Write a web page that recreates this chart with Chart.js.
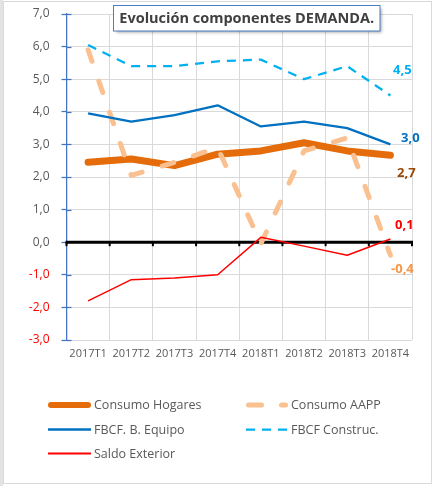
<!DOCTYPE html>
<html>
<head>
<meta charset="utf-8">
<script src="https://cdn.jsdelivr.net/npm/chart.js@4.4.0/dist/chart.umd.min.js"></script>
<style>
html,body{margin:0;padding:0;background:#fff;}
#wrap{position:relative;width:433px;height:486px;}
</style>
</head>
<body>
<div id="wrap"><canvas id="c" width="433" height="486"></canvas></div>
<script>
// ---- Data ----
const categories = ['2017T1','2017T2','2017T3','2017T4','2018T1','2018T2','2018T3','2018T4'];
const consumoHogares = [2.45, 2.55, 2.35, 2.7, 2.8, 3.05, 2.8, 2.67];
const consumoAAPP    = [5.9, 2.05, 2.45, 2.9, -0.05, 2.8, 3.2, -0.4];
const fbcfEquipo     = [3.95, 3.7, 3.9, 4.2, 3.55, 3.7, 3.5, 3.0];
const fbcfConstruc   = [6.05, 5.4, 5.4, 5.55, 5.6, 5.0, 5.4, 4.5];
const saldoExterior  = [-1.8, -1.15, -1.1, -1.0, 0.15, -0.12, -0.4, 0.1];
const seriesNames = ['Consumo Hogares','Consumo AAPP','FBCF. B. Equipo','FBCF Construc.','Saldo Exterior'];
const yMin = -3, yMax = 7, yStep = 1;
const chartTitle = 'Evolución componentes DEMANDA.';

const fmt = v => Number(v).toFixed(1).replace('.', ',');

// ---- Styles ----
const FONT = "'Open Sans', 'Liberation Sans', sans-serif";
const seriesStyle = [
  {color:'#E46C0A', width:7,    dash:[],      cap:'round', label:'#984807', dx:16, dy:18},
  {color:'#FAC090', width:5,    dash:[12,21], cap:'round', label:'#F79646', dx:12, dy:14.5},
  {color:'#0070C0', width:2.25, dash:[],      cap:'butt',  label:'#0070C0', dx:20, dy:-6.5},
  {color:'#00B0F0', width:2.25, dash:[9,7],   cap:'butt',  label:'#00B0F0', dx:12, dy:-25},
  {color:'#FF0000', width:1.5,  dash:[],      cap:'butt',  label:'#FF0000', dx:14, dy:-13.3}
];
const seriesData = [consumoHogares, consumoAAPP, fbcfEquipo, fbcfConstruc, saldoExterior];

const datasets = seriesData.map((d, i) => ({
  label: seriesNames[i],
  data: d,
  borderColor: seriesStyle[i].color,
  backgroundColor: seriesStyle[i].color,
  borderWidth: seriesStyle[i].width,
  borderDash: seriesStyle[i].dash,
  borderCapStyle: seriesStyle[i].cap,
  borderJoinStyle: 'round',
  pointRadius: 0,
  tension: 0,
  fill: false,
  order: 4 - i
}));

// zero line, inner blue ticks, small black ticks
const axisDecor = {
  id: 'axisDecor',
  beforeDatasetsDraw(chart) {
    const {ctx, chartArea: a, scales: {x, y}} = chart;
    ctx.save();
    ctx.strokeStyle = '#4472C4';
    ctx.lineWidth = 1.25;
    for (let v = yMin; v <= yMax; v += yStep) {
      const py = Math.round(y.getPixelForValue(v)) + 0.5;
      ctx.beginPath(); ctx.moveTo(a.left, py); ctx.lineTo(a.left + 5, py); ctx.stroke();
    }
    const y0 = y.getPixelForValue(0);
    ctx.strokeStyle = '#000';
    ctx.lineWidth = 3;
    ctx.beginPath(); ctx.moveTo(a.left - 1, y0); ctx.lineTo(a.right + 1, y0); ctx.stroke();
    const half = (x.getPixelForValue(1) - x.getPixelForValue(0)) / 2;
    ctx.fillStyle = '#000';
    for (let i = 0; i <= categories.length; i++) {
      const gx = x.getPixelForValue(0) - half + i * 2 * half;
      ctx.fillRect(gx - 1, y0, 2, 4);
    }
    ctx.restore();
  }
};

const overlay = {
  id: 'overlay',
  afterDatasetsDraw(chart) {
    const {ctx, scales: {x, y}} = chart;
    ctx.save();
    ctx.font = "bold 13px " + FONT;
    ctx.textAlign = 'center';
    ctx.textBaseline = 'middle';
    seriesData.forEach((d, i) => {
      const last = d.length - 1;
      const px = x.getPixelForValue(last);
      const py = y.getPixelForValue(d[last]);
      ctx.fillStyle = seriesStyle[i].label;
      ctx.fillText(fmt(d[last]), px + seriesStyle[i].dx, py + seriesStyle[i].dy);
    });
    ctx.restore();
  },
  afterDraw(chart) {
    const ctx = chart.ctx;
    ctx.save();
    ctx.fillStyle = '#E3E3E3';
    ctx.fillRect(0, 0, 3, 486);
    ctx.strokeStyle = '#D9D9D9';
    ctx.lineWidth = 1;
    ctx.strokeRect(3.5, 1.5, 428, 482);

    // title box
    const bx = 113.5, by = 5.5, bw = 266.5, bh = 25.5;
    ctx.save();
    ctx.shadowColor = 'rgba(0,0,0,0.35)';
    ctx.shadowOffsetX = 2; ctx.shadowOffsetY = 2; ctx.shadowBlur = 3;
    ctx.fillStyle = '#fff';
    ctx.fillRect(bx, by, bw, bh);
    ctx.restore();
    ctx.strokeStyle = '#4A7EC8';
    ctx.lineWidth = 1;
    ctx.strokeRect(bx, by, bw, bh);
    let fs = 15;
    ctx.font = "bold " + fs + "px " + FONT;
    while (ctx.measureText(chartTitle).width > 257 && fs > 10) {
      fs -= 0.25; ctx.font = "bold " + fs + "px " + FONT;
    }
    ctx.fillStyle = '#404040';
    ctx.textAlign = 'center';
    ctx.textBaseline = 'middle';
    ctx.fillText(chartTitle, bx + bw / 2, by + bh / 2 + 0.5);

    // legend
    const rows = [405, 429.5, 453.5];
    const cols = [{x0: 48, x1: 91, tx: 94}, {x0: 246, x1: 288, tx: 291}];
    ctx.font = "12.5px " + FONT;
    ctx.textAlign = 'left';
    ctx.textBaseline = 'middle';
    seriesNames.forEach((name, i) => {
      const r = rows[Math.floor(i / 2)], c = cols[i % 2];
      const s = seriesStyle[i];
      ctx.save();
      ctx.strokeStyle = s.color;
      ctx.lineWidth = i === 0 ? 6 : (i === 2 ? 2.5 : (i === 4 ? 2 : s.width));
      ctx.lineCap = s.cap;
      ctx.setLineDash(i === 1 ? [13, 20] : s.dash);
      const inset = s.cap === 'round' ? ctx.lineWidth / 2 : 0;
      ctx.beginPath(); ctx.moveTo(c.x0 + inset, r); ctx.lineTo(c.x1 - inset, r); ctx.stroke();
      ctx.restore();
      ctx.fillStyle = '#595959';
      ctx.fillText(name, c.tx, r + 0.5);
    });
    ctx.restore();
  }
};

new Chart(document.getElementById('c'), {
  type: 'line',
  data: { labels: categories, datasets },
  options: {
    responsive: false,
    animation: false,
    devicePixelRatio: 1,
    layout: { padding: { left: 0, right: 21, top: 14, bottom: 116 } },
    plugins: { legend: { display: false }, tooltip: { enabled: false }, title: { display: false } },
    scales: {
      x: {
        offset: true,
        grid: { offset: true, color: '#D9D9D9', lineWidth: 1, drawTicks: false },
        border: { display: false },
        ticks: { color: '#595959', font: { family: FONT, size: 11 }, padding: 7, maxRotation: 0, minRotation: 0, autoSkip: false },
        afterFit(s) { s.height = 30; }
      },
      y: {
        min: yMin, max: yMax,
        ticks: {
          stepSize: yStep,
          callback: v => fmt(v),
          color: c => (c.tick && c.tick.value < 0) ? '#FF0000' : '#595959',
          font: { family: FONT, size: 12 },
          padding: 12
        },
        grid: { color: '#D9D9D9', lineWidth: 1, tickColor: '#4472C4', tickLength: 5, tickWidth: 1.25 },
        border: { color: '#4472C4', width: 1.25 },
        afterFit(s) { s.width = 66.5; s.paddingTop = 0; s.paddingBottom = 0; }
      }
    }
  },
  plugins: [axisDecor, overlay]
});
</script>
</body>
</html>
